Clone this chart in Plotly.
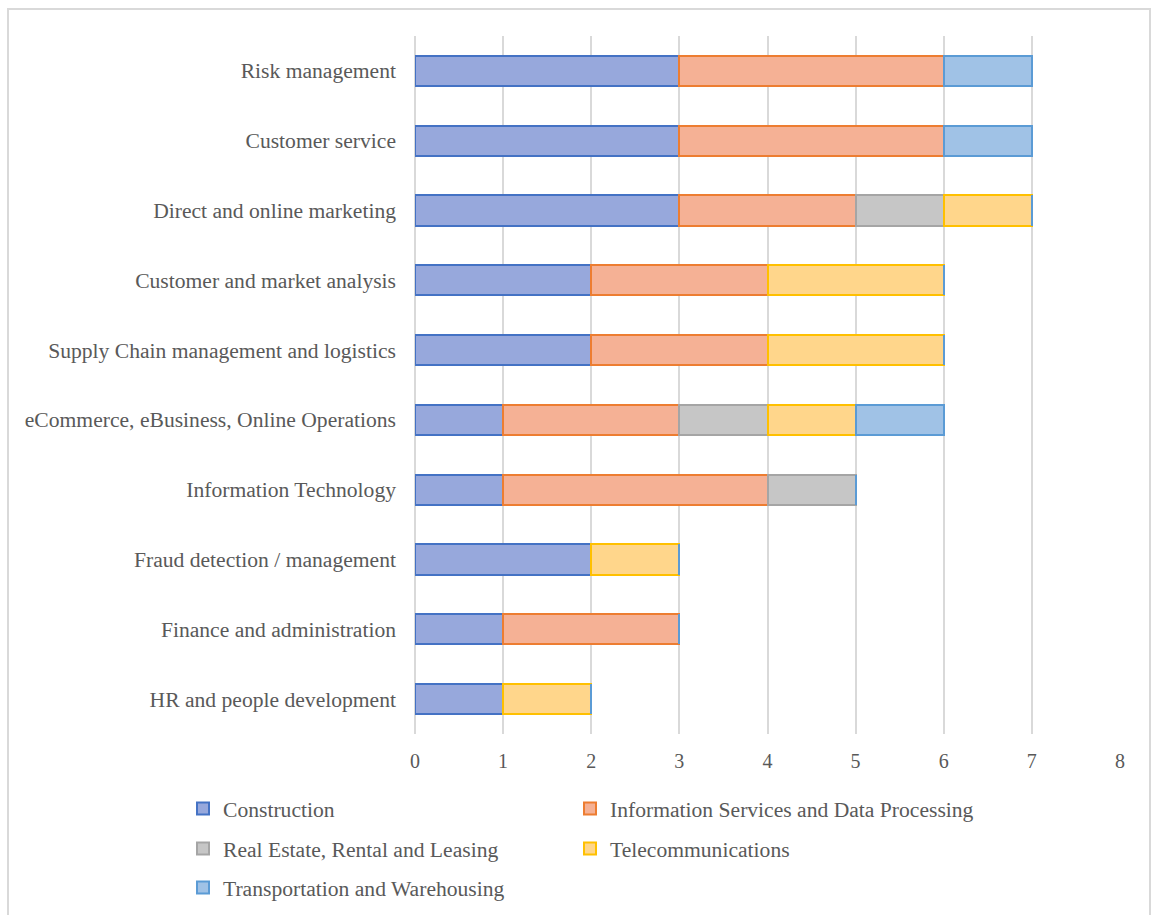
import plotly.graph_objects as go

# Business areas, listed top to bottom
areas = [
    "Risk management",
    "Customer service",
    "Direct and online marketing",
    "Customer and market analysis",
    "Supply Chain management and logistics",
    "eCommerce, eBusiness, Online Operations",
    "Information Technology",
    "Fraud detection / management",
    "Finance and administration",
    "HR and people development",
]

# Counts per industry for each business area
construction = [3, 3, 3, 2, 2, 1, 1, 2, 1, 1]
info_services = [3, 3, 2, 2, 2, 2, 3, 0, 2, 0]
real_estate = [0, 0, 1, 0, 0, 1, 1, 0, 0, 0]
telecom = [0, 0, 1, 2, 2, 1, 0, 1, 0, 1]
transport = [1, 1, 0, 0, 0, 1, 0, 0, 0, 0]

x_ticks = [0, 1, 2, 3, 4, 5, 6, 7, 8]

# name, values, fill, outline, legend id, legend (left px, centre-y px)
series = [
    ("Construction", construction, "#97A8DC", "#4472C4", "legend", (183, 809)),
    ("Information Services and Data Processing", info_services, "#F5B195", "#ED7D31", "legend2", (570, 809)),
    ("Real Estate, Rental and Leasing", real_estate, "#C6C6C6", "#A5A5A5", "legend3", (183, 849)),
    ("Telecommunications", telecom, "#FFD68B", "#FFC000", "legend4", (570, 849)),
    ("Transportation and Warehousing", transport, "#A0C2E6", "#5B9BD5", "legend5", (183, 888)),
]

FONT = "Liberation Serif, Times New Roman, serif"
TXT = "#595959"

W, H = 1152, 915
ml, mr, mt, mb = 10, 30, 36, 181
pw = W - ml - mr
ph = H - mt - mb


def px_x(p):
    return (p - ml) / pw


def px_y(p):
    return (H - mb - p) / ph


fig = go.Figure()
legends = {}
for name, vals, fill, edge, lg, (lx, ly) in series:
    fig.add_trace(go.Bar(
        name=name,
        y=areas,
        x=vals,
        orientation="h",
        marker=dict(color=fill, line=dict(color=edge, width=2)),
        legend=lg,
        showlegend=True,
    ))
    legends[lg] = dict(
        orientation="h",
        xref="container",
        yref="container",
        x=lx / W,
        y=1 - ly / H,
        xanchor="left",
        yanchor="middle",
        font=dict(family=FONT, size=21.6, color=TXT),
        bgcolor="rgba(0,0,0,0)",
    )

fig.update_layout(
    width=W,
    height=H,
    showlegend=True,
    margin=dict(l=ml, r=mr, t=mt, b=mb, autoexpand=False),
    barmode="stack",
    bargap=0.57,
    plot_bgcolor="white",
    paper_bgcolor="white",
    font=dict(family=FONT, size=21.6, color=TXT),
    xaxis=dict(
        domain=[px_x(415), px_x(1120)],
        range=[0, 8],
        tickvals=x_ticks,
        showgrid=True,
        gridcolor="#D9D9D9",
        gridwidth=2,
        zeroline=True,
        zerolinecolor="#D9D9D9",
        zerolinewidth=2,
        showline=False,
        ticks="",
        ticklabelstandoff=13,
        tickfont=dict(family=FONT, size=20, color=TXT),
        automargin=False,
    ),
    yaxis=dict(
        autorange="reversed",
        showgrid=False,
        zeroline=False,
        showline=False,
        ticks="",
        ticklabelstandoff=18,
        tickfont=dict(family=FONT, size=21.6, color=TXT),
        automargin=False,
    ),
    shapes=[
        dict(
            type="rect",
            xref="paper",
            yref="paper",
            x0=px_x(8),
            x1=px_x(1150),
            y0=px_y(930),
            y1=px_y(9),
            line=dict(color="#D9D9D9", width=2),
            fillcolor="rgba(0,0,0,0)",
            layer="below",
        )
    ],
    **legends,
)

fig.write_html("out.html")
